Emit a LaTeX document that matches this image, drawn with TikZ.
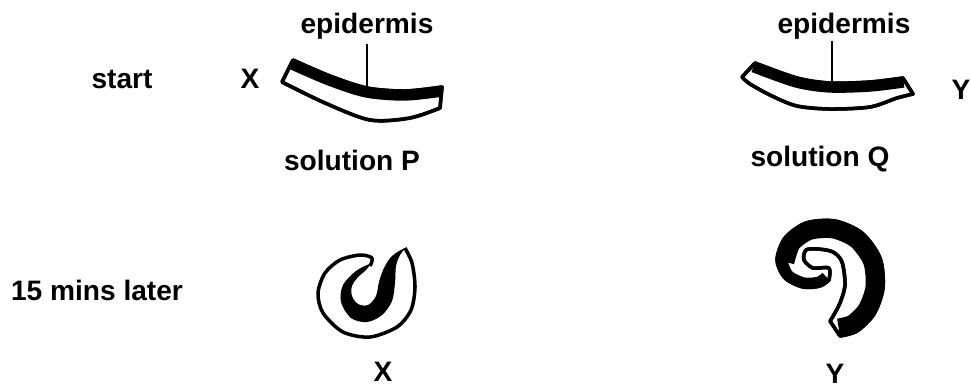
\documentclass[tikz,border=0pt]{standalone}
\usepackage{fontspec}
\setmainfont{Liberation Sans}
\usetikzlibrary{positioning}

\begin{document}
\begin{tikzpicture}[x=0.02cm,y=-0.02cm]
	\tikzset{lbl/.style={font=\fontsize{16}{19}\selectfont\bfseries,inner sep=0pt,anchor=base},
		rind/.style={fill=white,draw=black,line width=2pt,line join=round},
		rimline/.style={draw=black,line width=2pt,line join=round},
		epi/.style={line width=11pt,line join=round},
		epithick/.style={line width=20pt,line join=round},
		pointer/.style={line width=1.4pt}}
	\useasboundingbox (0,0) rectangle (971,387);

	%% strips at the start
	\def\stripP{plot[smooth] coordinates {(293,60) (330,76) (367,88) (405,91) (442,87)} -- (440,108)
		-- plot[smooth] coordinates {(440,108) (410,118) (370,120) (325,103) (282,82)} -- cycle}
	\def\stripQ{plot[smooth] coordinates {(755,63) (797,78) (830,83) (870,82) (903,78)} -- (913,94)
		-- plot[smooth] coordinates {(913,94) (897,98) (870,107) (830,109) (797,106) (772,96) (750,84) (742,77)} -- cycle}

	\path[rind] \stripP;
	\begin{scope}
		\clip \stripP;
		\draw[epi] plot[smooth] coordinates {(293,60) (330,76) (367,88) (405,91) (442,87)};
	\end{scope}
	\path[rimline] \stripP;

	\path[rind] \stripQ;
	\begin{scope}
		\clip \stripQ;
		\draw[epi] plot[smooth] coordinates {(755,63) (797,78) (830,83) (870,82) (903,78)};
	\end{scope}
	\path[rimline] \stripQ;

	%% curled strips, 15 mins later
	% X: epidermis on the inside of the curl
	\def\curlX{plot[smooth] coordinates {(405,248) (412,263) (415,287) (411,310) (397,327) (370,337)
		(343,332) (323,313) (318,293) (325,273) (340,260) (360,255) (372,258) (370,266)}}
	\fill[white] \curlX -- cycle;
	\path[rimline] \curlX;
	\fill plot[smooth cycle,tension=0.55] coordinates {(370,264) (356,271) (343,285) (341,302) (351,318)
		(367,322) (382,315) (392,301) (395,283) (396,266) (400,255) (405,248) (392,256) (384,268)
		(379,282) (376,296) (368,305) (358,304) (352,296) (352,286) (358,277) (365,271)};

	% Y: epidermis on the outside of the curl
	\def\curlY{plot[smooth] coordinates {(840,336) (857,331) (874,314) (883,288) (880,258) (862,233)
		(835,221) (806,223) (785,238) (777,260) (785,278) (803,287) (820,286) (829,280)}
		-- plot[smooth] coordinates {(829,280) (829,268) (813,268) (804,260) (806,250) (818,249)
		(833,252) (842,262) (845,285) (840,303) (832,318) (830,321)} -- cycle}
	\path[rind] \curlY;
	\begin{scope}
		\clip \curlY;
		\draw[epithick] plot[smooth] coordinates {(840,336) (857,331) (874,314) (883,288) (880,258) (862,233)
			(835,221) (806,223) (785,238) (777,260)};
		\draw[epi] plot[smooth] coordinates {(777,260) (785,278) (803,287) (820,286) (829,280)};
	\end{scope}
	\path[rimline] \curlY;

	%% labels
	\node[lbl] (start) at (122,88) {start};
	\node[lbl] (later) at (97,300) {15 mins later};
	\node[lbl] (xStart) at (250,88) {X};
	\node[lbl] (yStart) at (961,99) {Y};
	\node[lbl] (solP) at (352,170) {solution P};
	\node[lbl] (solQ) at (820,166) {solution Q};
	\node[lbl] (xEnd) at (383,381) {X};
	\node[lbl] (yEnd) at (835,383) {Y};
	\node[lbl] (epiLblP) at (367,33) {epidermis};
	\node[lbl] (epiLblQ) at (844,33) {epidermis};

	\coordinate (epiP) at (367,88);
	\coordinate (epiQ) at (832,83);
	\draw[pointer,shorten <=3pt] (epiLblP.south) -- (epiP);
	\draw[pointer,shorten <=1pt] (epiLblQ.south -| epiQ) -- (epiQ);
\end{tikzpicture}
\end{document}
